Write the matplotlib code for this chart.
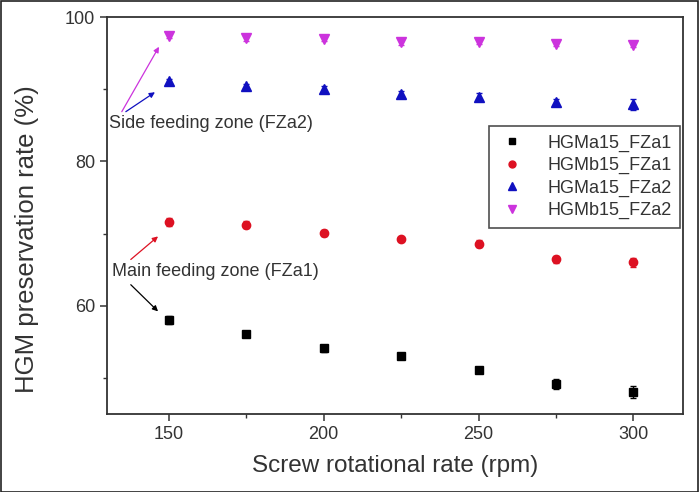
import matplotlib
matplotlib.use("Agg")
import matplotlib.pyplot as plt
from matplotlib.patches import Rectangle
from matplotlib.lines import Line2D

plt.rcParams["font.family"] = ["Liberation Sans", "DejaVu Sans"]

# Screw rotational rate (rpm)
rpm = [150, 175, 200, 225, 250, 275, 300]

# HGM preservation rate (%) and standard deviations
hgma15_fza1 = [58.0, 56.0, 54.1, 53.0, 51.1, 49.1, 48.0]
hgma15_fza1_err = [0.5, 0.3, 0.5, 0.2, 0.4, 0.7, 0.8]
hgmb15_fza1 = [71.6, 71.2, 70.1, 69.2, 68.6, 66.4, 66.0]
hgmb15_fza1_err = [0.5, 0.5, 0.4, 0.2, 0.5, 0.5, 0.6]
hgma15_fza2 = [91.1, 90.5, 90.1, 89.4, 89.0, 88.3, 87.9]
hgma15_fza2_err = [0.4, 0.3, 0.3, 0.3, 0.5, 0.4, 0.7]
hgmb15_fza2 = [97.4, 97.1, 97.0, 96.5, 96.6, 96.3, 96.2]
hgmb15_fza2_err = [0.3, 0.4, 0.3, 0.3, 0.3, 0.3, 0.3]

series_names = ["HGMa15_FZa1", "HGMb15_FZa1", "HGMa15_FZa2", "HGMb15_FZa2"]

fig = plt.figure(figsize=(6.99, 4.92), dpi=100)
ax = fig.add_axes([0.153, 0.159, 0.824, 0.806])

styles = [
    (hgma15_fza1, hgma15_fza1_err, "s", "#000000", 6),
    (hgmb15_fza1, hgmb15_fza1_err, "o", "#dd1122", 6),
    (hgma15_fza2, hgma15_fza2_err, "^", "#1010c0", 7),
    (hgmb15_fza2, hgmb15_fza2_err, "v", "#cc33dd", 7),
]
handles = []
for (vals, errs, mk, col, ms), name in zip(styles, series_names):
    ax.errorbar(rpm, vals, yerr=errs, fmt=mk, color=col, ms=ms,
                mec=col, mfc=col, ecolor=col, elinewidth=1.0,
                capsize=2.5, capthick=1.0, linestyle="none")
    handles.append(Line2D([], [], marker=mk, color=col, mec=col, mfc=col,
                          ms=ms - 1, linestyle="none", label=name))

ax.set_xlim(130, 316)
ax.set_ylim(45, 100)
ax.set_xticks([150, 200, 250, 300])
ax.set_xticks([175, 225, 275], minor=True)
ax.set_yticks([60, 80, 100])
ax.set_yticks([50, 70, 90], minor=True)

spine_col = "#333333"
for s in ax.spines.values():
    s.set_color(spine_col)
    s.set_linewidth(1.3)
ax.tick_params(which="major", direction="out", length=5, width=1.1,
               colors=spine_col, labelsize=13, labelcolor="#333333")
ax.tick_params(which="minor", direction="out", length=3, width=1.0,
               colors=spine_col)

ax.set_xlabel("Screw rotational rate (rpm)", fontsize=17.5, color="#333333",
              labelpad=9)
ax.set_ylabel("HGM preservation rate (%)", fontsize=18.5, color="#333333")
ax.yaxis.set_label_coords(-0.118, 0.44)

leg = ax.legend(handles=handles, loc="upper right",
                bbox_to_anchor=(0.995, 0.725), borderaxespad=0, fontsize=13,
                frameon=True, fancybox=False, handletextpad=1.2,
                borderpad=0.45, labelspacing=0.3, handlelength=1.6)
leg.get_frame().set_edgecolor("#222222")
leg.get_frame().set_linewidth(1.2)
for t in leg.get_texts():
    t.set_color("#333333")

arrow_kw = dict(arrowstyle="-|>", lw=0.9, mutation_scale=8,
                shrinkA=0, shrinkB=0)

# Side feeding zone annotation
ax.annotate("", xy=(146.8, 95.9), xytext=(134.8, 86.9),
            arrowprops=dict(color="#cc33dd", **arrow_kw))
ax.annotate("", xy=(145.5, 89.6), xytext=(136.1, 86.9),
            arrowprops=dict(color="#1010c0", **arrow_kw))
ax.text(130.6, 85.2, "Side feeding zone (FZa2)", fontsize=13,
        color="#333333", va="center", ha="left")

# Main feeding zone annotation
ax.annotate("", xy=(146.5, 69.6), xytext=(137.7, 66.4),
            arrowprops=dict(color="#dd1122", **arrow_kw))
ax.annotate("", xy=(146.5, 59.2), xytext=(137.7, 62.9),
            arrowprops=dict(color="#000000", **arrow_kw))
ax.text(131.6, 64.8, "Main feeding zone (FZa1)", fontsize=13,
        color="#333333", va="center", ha="left")

# Outer frame around the whole figure
fig.patches.append(Rectangle((0.001, 0.001), 0.997, 0.997,
                             transform=fig.transFigure, fill=False,
                             edgecolor="#222222", linewidth=1.2))

fig.savefig("out.png", dpi=100)
